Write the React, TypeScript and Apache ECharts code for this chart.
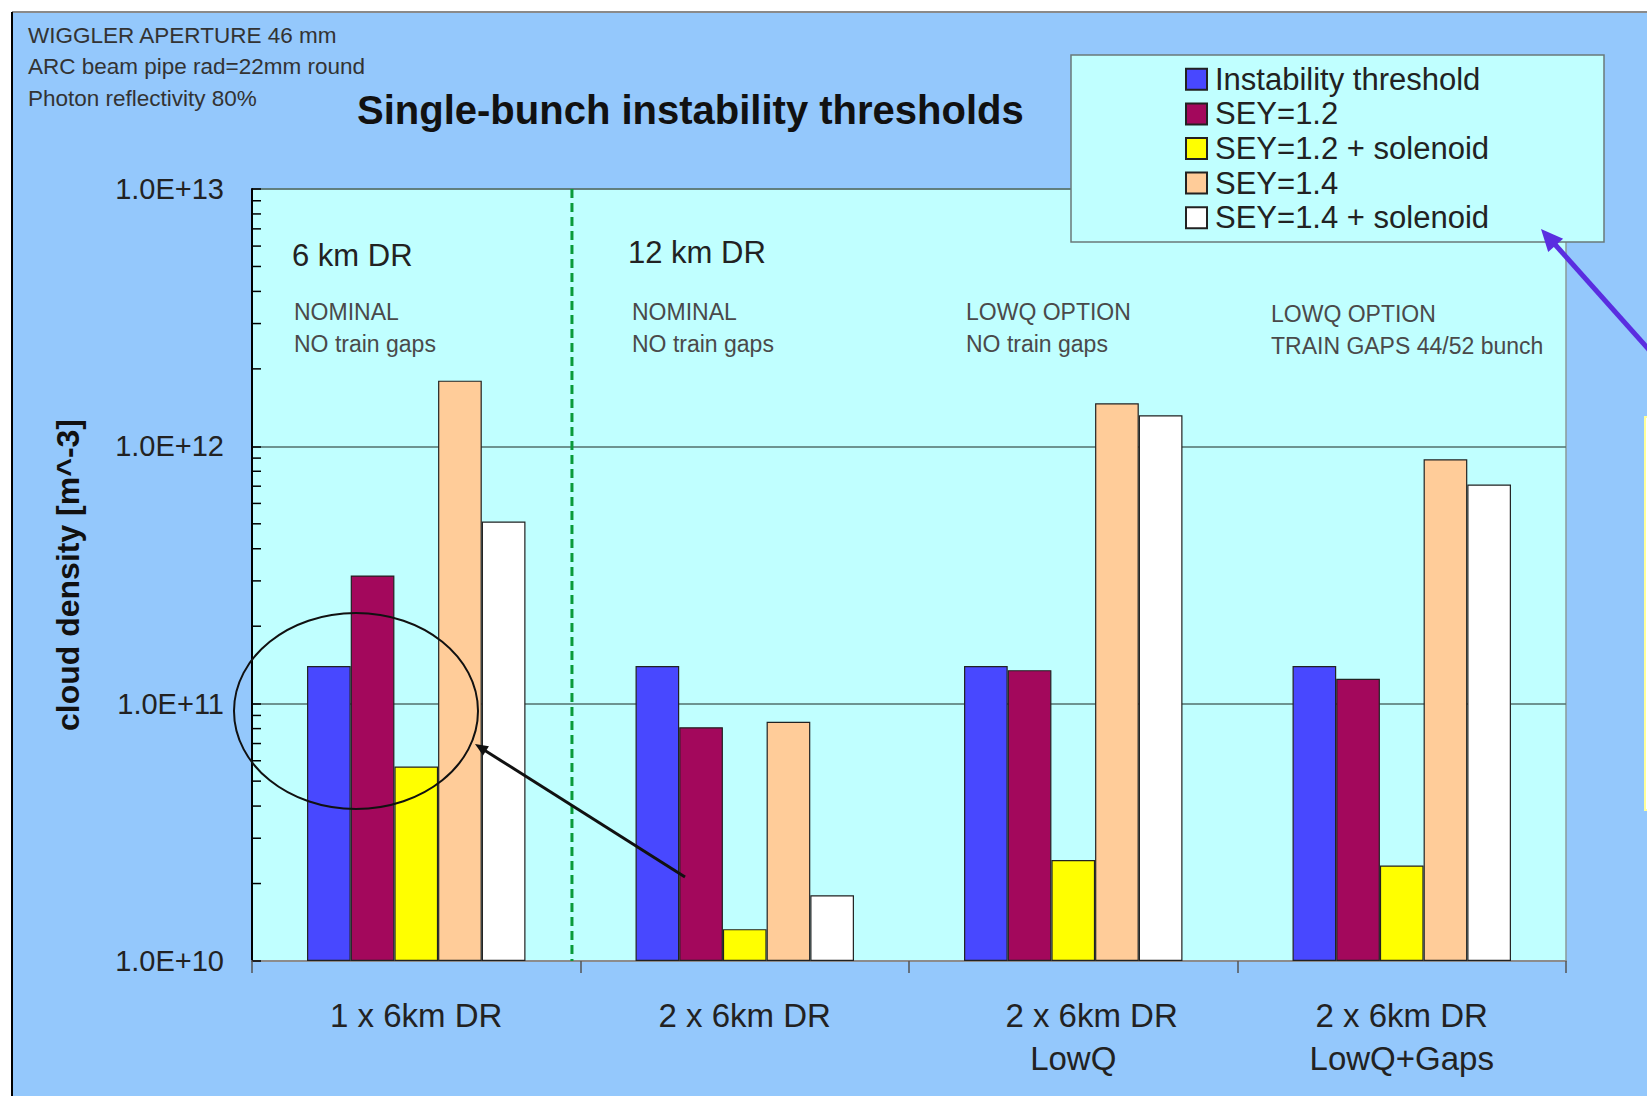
import React, { useEffect, useRef } from "react";
import * as echarts from "echarts";

// ---- data ----
const categories = ["1 x 6km DR", "2 x 6km DR", "    2 x 6km DR\nLowQ", "2 x 6km DR\nLowQ+Gaps"];
const seriesNames = [
  "Instability threshold",
  "SEY=1.2",
  "SEY=1.2 + solenoid",
  "SEY=1.4",
  "SEY=1.4 + solenoid",
];
const instabilityThreshold = [1.4e11, 1.4e11, 1.4e11, 1.4e11];
const sey12 = [3.15e11, 8.1e10, 1.35e11, 1.25e11];
const sey12Solenoid = [5.7e10, 1.33e10, 2.47e10, 2.35e10];
const sey14 = [1.8e12, 8.5e10, 1.47e12, 8.9e11];
const sey14Solenoid = [5.1e11, 1.8e10, 1.32e12, 7.1e11];
const seriesValues = [instabilityThreshold, sey12, sey12Solenoid, sey14, sey14Solenoid];
const seriesColors = ["#4848FF", "#A3085C", "#FFFF00", "#FFCC99", "#FFFFFF"];

const yMin = 1e10;
const yMax = 1e13;

const setupNotes = ["WIGGLER APERTURE 46 mm", "ARC beam pipe rad=22mm round", "Photon reflectivity 80%"];
const ringLabels = ["6 km DR", "12 km DR"];
const caseNotes = [
  ["NOMINAL", "NO train gaps"],
  ["NOMINAL", "NO train gaps"],
  ["LOWQ OPTION", "NO train gaps"],
  ["LOWQ OPTION", "TRAIN GAPS 44/52 bunch"],
];

// ---- layout ----
const W = 1647;
const H = 1096;
const GRID_LEFT = 252;
const GRID_RIGHT = 81;
const GRID_TOP = 189;
const GRID_BOTTOM = 135;
const FONT = "'Liberation Sans', Arial, Helvetica, sans-serif";

function arrowHead(tip: number[], tail: number[], len: number, half: number) {
  const dx = tip[0] - tail[0];
  const dy = tip[1] - tail[1];
  const d = Math.hypot(dx, dy);
  const ux = dx / d;
  const uy = dy / d;
  const bx = tip[0] - ux * len;
  const by = tip[1] - uy * len;
  return [
    [tip[0], tip[1]],
    [bx - uy * half, by + ux * half],
    [bx + uy * half, by - ux * half],
  ];
}

function buildOption() {
  return {
    animation: false,
    backgroundColor: "#ffffff",
    textStyle: { fontFamily: FONT },
    title: {
      text: "Single-bunch instability thresholds",
      left: 357,
      top: 88,
      padding: 0,
      textStyle: { fontFamily: FONT, fontSize: 40, fontWeight: "bold", color: "#111", lineHeight: 44 },
    },
    legend: {
      orient: "vertical",
      left: 1185,
      top: 62,
      padding: 0,
      itemGap: 0,
      itemWidth: 21,
      itemHeight: 21,
      icon: "rect",
      data: seriesNames,
      textStyle: {
        fontFamily: FONT,
        fontSize: 31,
        color: "#222",
        lineHeight: 34.6,
        padding: [0, 0, 0, 3],
      },
      z: 6,
    },
    grid: {
      left: GRID_LEFT,
      right: GRID_RIGHT,
      top: GRID_TOP,
      bottom: GRID_BOTTOM,
      show: true,
      backgroundColor: "#C0FFFF",
      borderColor: "#8a9a9a",
      borderWidth: 1.5,
    },
    xAxis: {
      type: "category",
      data: categories,
      axisLine: { lineStyle: { color: "#8c8c8c", width: 2 } },
      axisTick: { show: true, length: 12, lineStyle: { color: "#555", width: 1.5 } },
      axisLabel: {
        fontFamily: FONT,
        fontSize: 33,
        color: "#222",
        lineHeight: 43,
        margin: 33,
        interval: 0,
      },
      splitLine: { show: false },
    },
    yAxis: {
      type: "log",
      logBase: 10,
      min: yMin,
      max: yMax,
      startValue: yMin,
      name: "cloud density [m^-3]",
      nameLocation: "middle",
      nameGap: 168,
      nameRotate: 90,
      nameTextStyle: { fontFamily: FONT, fontSize: 32, fontWeight: "bold", color: "#111" },
      axisLine: { show: true, lineStyle: { color: "#000", width: 2 } },
      axisTick: { show: true, inside: true, length: 9, lineStyle: { color: "#000", width: 1.5 } },
      axisLabel: {
        fontFamily: FONT,
        fontSize: 29,
        color: "#222",
        margin: 28,
        formatter: (v: number) => v.toExponential(1).toUpperCase(),
      },
      splitLine: { show: true, lineStyle: { color: "#52706c", width: 1.5 } },
    },
    series: seriesNames.map((name, i) => ({
      name,
      type: "bar",
      data: seriesValues[i],
      barGap: "0%",
      barCategoryGap: "33.5%",
      clip: true,
      itemStyle: { color: seriesColors[i], borderColor: "#222", borderWidth: 1.2 },
      emphasis: { disabled: true },
    })),
  };
}

export default function App() {
  const ref = useRef<HTMLDivElement>(null);

  useEffect(() => {
    document.body.style.margin = "0";
    const chart = echarts.init(ref.current!, null, { renderer: "svg" });
    chart.setOption(buildOption());

    const elements: any[] = [];

    // slide background
    elements.push({
      type: "rect",
      z: -10,
      shape: { x: 13, y: 13, width: W - 13, height: H - 13 },
      style: { fill: "#94C8FC" },
    });
    elements.push({
      type: "line",
      z: -9,
      shape: { x1: 12, y1: 12, x2: W, y2: 12 },
      style: { stroke: "#8a8a8a", lineWidth: 2 },
    });
    elements.push({
      type: "line",
      z: -9,
      shape: { x1: 12, y1: 12, x2: 12, y2: H },
      style: { stroke: "#000", lineWidth: 2 },
    });

    // side panel edge at right
    elements.push({
      type: "rect",
      z: -8,
      shape: { x: 1645, y: 417, width: 12, height: 393 },
      style: { fill: "#ffffff", stroke: "#FFFF99", lineWidth: 2 },
    });

    // setup notes
    setupNotes.forEach((t, i) => {
      elements.push({
        type: "text",
        z: 10,
        x: 28,
        y: 35 + i * 31.5,
        style: { text: t, fontFamily: FONT, fontSize: 22.5, fill: "#333", verticalAlign: "middle" },
      });
    });

    // legend frame
    elements.push({
      type: "rect",
      z: 3,
      shape: { x: 1071, y: 55, width: 533, height: 187 },
      style: { fill: "#C0FFFF", stroke: "#6a7a7a", lineWidth: 1.5 },
    });

    // ring labels
    const ringPos = [
      [292, 255],
      [628, 252],
    ];
    ringLabels.forEach((t, i) => {
      elements.push({
        type: "text",
        z: 10,
        x: ringPos[i][0],
        y: ringPos[i][1],
        style: { text: t, fontFamily: FONT, fontSize: 31, fill: "#222", verticalAlign: "middle" },
      });
    });

    // case notes
    const notePos = [294, 632, 966, 1271];
    caseNotes.forEach((lines, i) => {
      lines.forEach((t, j) => {
        elements.push({
          type: "text",
          z: 10,
          x: notePos[i],
          y: 312 + j * 32 + (i === 3 ? 2 : 0),
          style: { text: t, fontFamily: FONT, fontSize: 23, fill: "#4a4a4a", verticalAlign: "middle" },
        });
      });
    });

    // minor log ticks on the y axis
    for (let d = 10; d < 13; d++) {
      for (let k = 2; k <= 9; k++) {
        const y = chart.convertToPixel({ yAxisIndex: 0 }, k * Math.pow(10, d)) as number;
        elements.push({
          type: "line",
          z: 6,
          shape: { x1: GRID_LEFT, y1: y, x2: GRID_LEFT + 9, y2: y },
          style: { stroke: "#000", lineWidth: 1.5 },
        });
      }
    }

    // separator between the 6 km and 12 km rings
    const yTop = chart.convertToPixel({ yAxisIndex: 0 }, yMax) as number;
    const yBot = chart.convertToPixel({ yAxisIndex: 0 }, yMin) as number;
    const x0 = chart.convertToPixel({ xAxisIndex: 0 }, categories[0]) as number;
    const x1 = chart.convertToPixel({ xAxisIndex: 0 }, categories[1]) as number;
    const sepX = x0 + (x1 - x0) * 0.474;
    elements.push({
      type: "line",
      z: 5,
      shape: { x1: sepX, y1: yTop, x2: sepX, y2: yBot },
      style: { stroke: "#0A9A3A", lineWidth: 3, lineDash: [9, 5] },
    });

    // highlight ellipse and pointer
    elements.push({
      type: "ellipse",
      z: 12,
      shape: { cx: 356, cy: 711, rx: 122, ry: 98 },
      style: { fill: "none", stroke: "#111", lineWidth: 2 },
    });
    const blackTail = [685, 877];
    const blackTip = [475, 744];
    elements.push({
      type: "line",
      z: 12,
      shape: { x1: blackTail[0], y1: blackTail[1], x2: blackTip[0] + 6, y2: blackTip[1] + 4 },
      style: { stroke: "#111", lineWidth: 3 },
    });
    elements.push({
      type: "polygon",
      z: 12,
      shape: { points: arrowHead(blackTip, blackTail, 13, 5.5) },
      style: { fill: "#111" },
    });

    // pointer to legend
    const purpleTail = [1660, 362];
    const purpleTip = [1541, 229];
    elements.push({
      type: "line",
      z: 12,
      shape: { x1: purpleTail[0], y1: purpleTail[1], x2: purpleTip[0] + 10, y2: purpleTip[1] + 11 },
      style: { stroke: "#5A2EE0", lineWidth: 5 },
    });
    elements.push({
      type: "polygon",
      z: 12,
      shape: { points: arrowHead(purpleTip, purpleTail, 22, 10) },
      style: { fill: "#5A2EE0" },
    });

    chart.setOption({ graphic: { elements } });

    return () => chart.dispose();
  }, []);

  return <div ref={ref} style={{ width: W, height: H }} />;
}
